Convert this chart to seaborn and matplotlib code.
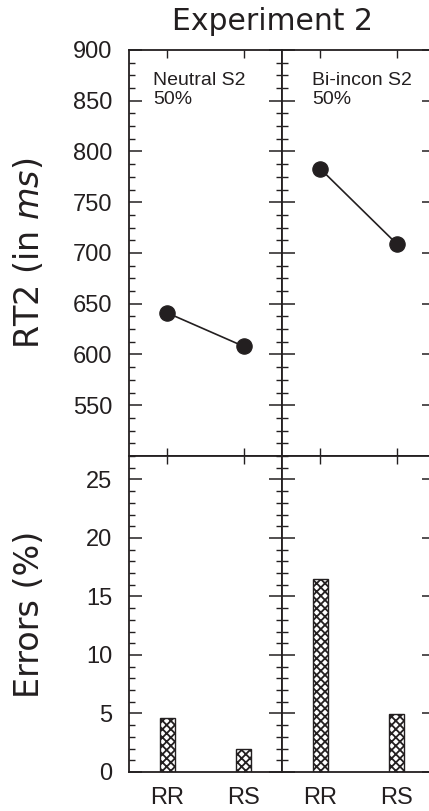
import pandas as pd
import numpy as np
import matplotlib
matplotlib.use("Agg")
import matplotlib.pyplot as plt
import seaborn as sns
from matplotlib.ticker import MultipleLocator, FixedLocator

# values
conditions = ["RR", "RS"]
panels = ["Neutral S2\n50%", "Bi-incon S2\n50%"]
rt_neutral = [641, 608]
rt_biincon = [783, 709]
err_neutral = [4.6, 1.95]
err_biincon = [16.5, 4.95]
rt_ticks = [550, 600, 650, 700, 750, 800, 850, 900]

ink = "#231f20"

sns.set_style("ticks")
plt.rcParams["font.family"] = ["DejaVu Sans"]
plt.rcParams["hatch.linewidth"] = 1.3
plt.rcParams["hatch.color"] = ink

fig = plt.figure(figsize=(4.29, 8.11), dpi=100)

# panel positions (figure fractions)
x_left = [129 / 429, 282 / 429]
w = 153 / 429
top_ax = [fig.add_axes([x, 355 / 811, w, 406 / 811]) for x in x_left]
bot_ax = [fig.add_axes([x, 39 / 811, w, 316 / 811]) for x in x_left]

rt_data = [rt_neutral, rt_biincon]
err_data = [err_neutral, err_biincon]

tick_font = {"family": "Liberation Sans", "size": 17}

for i in range(2):
    df_rt = pd.DataFrame({"cond": conditions, "rt": rt_data[i]})
    df_err = pd.DataFrame({"cond": conditions, "err": err_data[i]})

    ax = top_ax[i]
    sns.pointplot(data=df_rt, x="cond", y="rt", color=ink, markers="o",
                  markersize=11, linewidth=1.2, errorbar=None, ax=ax)
    ax.set_ylim(500, 900)
    ax.set_xlim(-0.5, 1.5)
    ax.yaxis.set_major_locator(FixedLocator(rt_ticks))
    ax.yaxis.set_minor_locator(MultipleLocator(12.5))
    ax.text(0.157 if i == 0 else 0.196, 0.946, panels[i], transform=ax.transAxes,
            ha="left", va="top", fontsize=14, family="Liberation Sans",
            color=ink, linespacing=1.15)

    ax = bot_ax[i]
    sns.barplot(data=df_err, x="cond", y="err", color="white", edgecolor=ink,
                linewidth=1.0, hatch="xxxx", width=0.2, errorbar=None, ax=ax)
    ax.set_ylim(0, 27)
    ax.set_xlim(-0.5, 1.5)
    ax.yaxis.set_major_locator(MultipleLocator(5))
    ax.yaxis.set_minor_locator(MultipleLocator(1))

for ax in top_ax + bot_ax:
    for s in ax.spines.values():
        s.set_visible(True)
        s.set_linewidth(1.3)
        s.set_color(ink)
    ax.set_xlabel("")
    ax.set_ylabel("")
    ax.tick_params(axis="y", which="major", direction="in", left=True, right=True,
                   length=9.4, width=1.1, color=ink, pad=12, labelcolor=ink)
    ax.tick_params(axis="y", which="minor", direction="in", left=True, right=True,
                   length=4.3, width=1.0, color=ink)
    ax.tick_params(axis="x", which="major", direction="in", top=True, bottom=True,
                   length=6, width=1.0, color=ink, pad=10.5, labelcolor=ink)
    for lab in ax.get_xticklabels() + ax.get_yticklabels():
        lab.set_fontfamily(tick_font["family"])
        lab.set_fontsize(tick_font["size"])

# only the outer panels keep their labels
for ax in top_ax:
    ax.tick_params(axis="x", labelbottom=False)
for ax in [top_ax[1], bot_ax[1]]:
    ax.tick_params(axis="y", labelleft=False)

top_ax[0].set_ylabel(r"RT2 (in $\mathit{ms}$)", fontsize=24, color=ink)
top_ax[0].yaxis.set_label_coords(-0.54, 0.5)
bot_ax[0].set_ylabel("Errors (%)", fontsize=24, color=ink)
bot_ax[0].yaxis.set_label_coords(-0.54, 0.5)

fig.text(273 / 429, 1 - 22 / 811, "Experiment 2", ha="center", va="center",
         fontsize=21.5, color=ink)

fig.savefig("out.png", dpi=100)
